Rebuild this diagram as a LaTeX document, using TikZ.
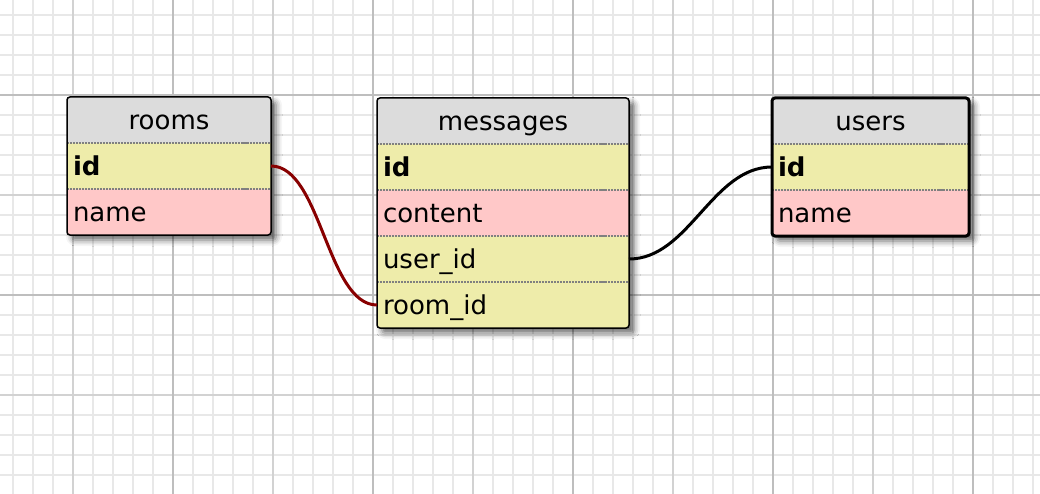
\documentclass[tikz,border=0pt]{standalone}
\usepackage{fontspec}
\setmainfont{DejaVu Sans}
\usetikzlibrary{positioning,shadows.blur}
\definecolor{headgray}{RGB}{220,220,220}
\definecolor{keyyellow}{RGB}{238,236,170}
\definecolor{fieldpink}{RGB}{255,200,200}
\definecolor{linkred}{RGB}{136,0,0}
\definecolor{gridlight}{RGB}{232,232,232}
\definecolor{gridmid}{RGB}{210,210,210}
\definecolor{griddark}{RGB}{190,190,190}
\definecolor{sepgray}{RGB}{128,128,128}
\begin{document}
\begin{tikzpicture}[
        x=1pt, y=-1pt,
        every node/.style={color=black, font=\fontsize{26}{30}\selectfont},
        grid minor/.style={gridlight, line width=1.4pt},
        grid mid/.style={gridmid, line width=1.4pt},
        grid major/.style={griddark, line width=1.4pt},
        table box/.style={anchor=north west, rectangle, rounded corners=3pt,
            fill=white, inner sep=0pt, outer sep=0pt,
            blur shadow={shadow xshift=5pt, shadow yshift=-5pt,
            shadow blur radius=6pt, shadow opacity=60}},
        table border/.style={line width=1.5pt, rounded corners=3pt},
        rowbase/.style={inner xsep=6pt, inner ysep=0pt, outer sep=0pt,
            minimum height=46pt, text height=23pt, text depth=4pt},
        tabhead/.style={rowbase, fill=headgray, text width=#1, align=center},
        keyrow/.style={rowbase, fill=keyyellow, text width=#1, align=left},
        datarow/.style={rowbase, fill=fieldpink, text width=#1, align=left},
        sepline/.style={sepgray, line width=1.2pt, dash pattern=on 1.5pt off 1.5pt},
        sepmark/.style={sepgray, line width=1.2pt},
        fk link/.style={line width=3pt}
        ]
        \useasboundingbox (0,0) rectangle (1040,494);
        % grid
        \foreach \gx in {13,33,...,1033} \draw[grid minor] (\gx,0) -- (\gx,494);
        \foreach \gy in {15,35,...,475} \draw[grid minor] (0,\gy) -- (1040,\gy);
        \foreach \gx in {73,273,...,873} \draw[grid mid] (\gx,0) -- (\gx,494);
        \foreach \gy in {195,395} \draw[grid mid] (0,\gy) -- (1040,\gy);
        \foreach \gx in {173,373,...,973} \draw[grid major] (\gx,0) -- (\gx,494);
        \foreach \gy in {95,295} \draw[grid major] (0,\gy) -- (1040,\gy);
        % rooms
        \node[table box, minimum width=204pt, minimum height=138pt] (rooms) at (67,97) {};
        \node[tabhead=192pt, below right=0pt and 0pt of rooms.north west] (rooms-head) {rooms};
        \node[keyrow=192pt, below=0pt of rooms-head] (rooms-id) {\textbf{id}};
        \node[datarow=192pt, below=0pt of rooms-id] (rooms-name) {name};
        % messages
        \node[table box, minimum width=252pt, minimum height=230pt] (messages) at (377,98) {};
        \node[tabhead=240pt, below right=0pt and 0pt of messages.north west] (messages-head) {messages};
        \node[keyrow=240pt, below=0pt of messages-head] (messages-id) {\textbf{id}};
        \node[datarow=240pt, below=0pt of messages-id] (messages-content) {content};
        \node[keyrow=240pt, below=0pt of messages-content] (messages-userid) {user\_id};
        \node[keyrow=240pt, below=0pt of messages-userid] (messages-roomid) {room\_id};
        % users
        \node[table box, minimum width=197pt, minimum height=138pt] (users) at (772,98) {};
        \node[tabhead=185pt, below right=0pt and 0pt of users.north west] (users-head) {users};
        \node[keyrow=185pt, below=0pt of users-head] (users-id) {\textbf{id}};
        \node[datarow=185pt, below=0pt of users-id] (users-name) {name};
        % separators
        \foreach \r in {rooms-id,rooms-name,messages-id,messages-content,
            messages-userid,messages-roomid,users-id,users-name} {
            \draw[sepline] (\r.north west) -- (\r.north east);
            \draw[sepmark] ([xshift=-30pt]\r.north east) -- ++(6,0);
        }
        % borders
        \draw[table border] (rooms.north west) rectangle (rooms.south east);
        \draw[table border] (messages.north west) rectangle (messages.south east);
        \draw[table border, line width=3pt] (users.north west) rectangle (users.south east);
        % links
        \draw[fk link, linkred] (rooms-id.east) .. controls +(50,0) and +(-50,0) .. (messages-roomid.west);
        \draw[fk link] (messages-userid.east) .. controls +(60,0) and +(-60,0) .. (users-id.west);
\end{tikzpicture}
\end{document}
